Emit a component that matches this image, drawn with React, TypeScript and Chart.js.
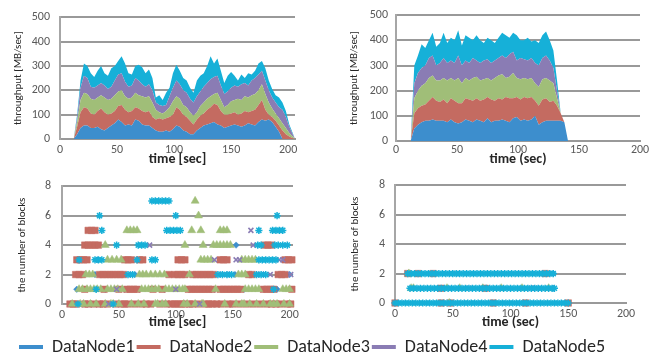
import React, { useEffect, useRef } from "react";
import { Chart, registerables } from "chart.js";
Chart.register(...registerables);

const FONT = "Carlito, Calibri, Lato, sans-serif";

const seriesNames = ["DataNode1", "DataNode2", "DataNode3", "DataNode4", "DataNode5"];
const seriesColors = ["#3d8ecd", "#c46b61", "#a0be78", "#8a7cb4", "#16b0d8"];

// ---------- top-left: throughput (stacked) ----------
const tlTime = [12, 15, 18, 21, 24, 27, 30, 33, 36, 39, 42, 45, 48, 51, 54, 57, 60, 63, 66, 69, 72, 75, 78, 81, 84, 87, 90, 93, 96, 99, 102, 105, 108, 111, 114, 117, 120, 123, 126, 129, 132, 135, 138, 141, 144, 147, 150, 153, 156, 159, 162, 165, 168, 171, 174, 177, 180, 183, 186, 189, 192, 195, 198, 201, 204, 206];
const tlDN1 = [0, 20, 45, 55, 55, 45, 45, 50, 40, 35, 45, 55, 65, 80, 70, 55, 60, 55, 80, 75, 60, 55, 55, 45, 35, 30, 30, 35, 30, 40, 55, 50, 35, 30, 20, 20, 35, 45, 55, 60, 65, 70, 60, 55, 45, 50, 55, 60, 55, 50, 55, 65, 60, 55, 70, 80, 75, 80, 70, 50, 30, 0, 0, 0, 0, 0];
const tlDN2 = [0, 30, 65, 75, 70, 60, 55, 65, 85, 75, 55, 50, 50, 55, 70, 65, 50, 60, 50, 50, 55, 55, 60, 45, 45, 55, 50, 50, 60, 60, 75, 70, 65, 60, 55, 40, 45, 50, 50, 60, 65, 75, 80, 60, 55, 50, 50, 50, 45, 55, 60, 45, 55, 65, 70, 80, 45, 20, 20, 25, 25, 35, 20, 10, 3, 0];
const tlDN3 = [0, 20, 50, 60, 60, 60, 60, 55, 55, 60, 60, 60, 65, 60, 60, 55, 55, 55, 60, 55, 60, 60, 60, 60, 40, 25, 25, 30, 40, 55, 45, 45, 40, 40, 35, 35, 30, 40, 45, 45, 45, 40, 50, 45, 30, 40, 50, 50, 65, 55, 60, 60, 65, 65, 60, 65, 65, 50, 35, 30, 30, 30, 25, 15, 7, 0];
const tlDN4 = [0, 15, 50, 70, 65, 50, 50, 50, 50, 50, 45, 50, 60, 70, 70, 60, 50, 50, 60, 60, 50, 45, 50, 50, 30, 30, 30, 25, 45, 55, 65, 60, 60, 60, 55, 55, 65, 60, 65, 65, 70, 70, 70, 60, 55, 55, 55, 60, 50, 65, 55, 50, 60, 65, 65, 55, 55, 50, 45, 45, 45, 55, 45, 25, 10, 0];
const tlDN5 = [0, 15, 30, 50, 50, 55, 45, 60, 70, 50, 55, 75, 60, 55, 70, 75, 55, 45, 50, 65, 70, 55, 60, 50, 20, 40, 25, 50, 35, 60, 65, 55, 50, 50, 45, 40, 65, 65, 55, 70, 95, 55, 70, 60, 45, 65, 65, 40, 25, 40, 20, 50, 25, 30, 45, 40, 50, 40, 35, 30, 40, 30, 25, 10, 5, 0];

// ---------- top-right: throughput (stacked) ----------
const trTime = [12, 15, 18, 21, 24, 27, 30, 33, 36, 39, 42, 45, 48, 51, 54, 57, 60, 63, 66, 69, 72, 75, 78, 81, 84, 87, 90, 93, 96, 99, 102, 105, 108, 111, 114, 117, 120, 123, 126, 129, 132, 135, 138, 141];
const trDN1 = [0, 50, 65, 75, 80, 80, 85, 80, 80, 80, 75, 85, 75, 70, 75, 85, 80, 75, 85, 80, 75, 90, 75, 80, 80, 85, 80, 75, 90, 95, 80, 85, 80, 85, 100, 65, 75, 80, 80, 80, 80, 80, 75, 0];
const trDN2 = [0, 60, 65, 65, 65, 80, 90, 80, 75, 85, 75, 85, 85, 80, 75, 85, 85, 85, 85, 80, 90, 85, 90, 80, 90, 80, 95, 95, 80, 80, 85, 90, 90, 90, 60, 75, 90, 90, 75, 80, 60, 30, 0, 0];
const trDN3 = [0, 60, 70, 80, 85, 90, 85, 80, 85, 85, 90, 80, 80, 100, 80, 80, 75, 90, 85, 80, 80, 75, 75, 90, 90, 100, 75, 85, 100, 75, 80, 75, 75, 75, 70, 75, 80, 80, 85, 70, 30, 0, 0, 0];
const trDN4 = [0, 60, 70, 70, 70, 80, 80, 60, 70, 80, 70, 70, 70, 90, 70, 70, 70, 80, 65, 70, 75, 75, 70, 70, 70, 75, 80, 90, 85, 70, 85, 75, 75, 80, 80, 85, 85, 90, 80, 60, 30, 0, 0, 0];
const trDN5 = [0, 70, 70, 95, 70, 70, 90, 75, 80, 100, 80, 90, 90, 100, 80, 100, 100, 70, 100, 90, 70, 85, 90, 70, 80, 90, 90, 65, 75, 100, 70, 75, 90, 65, 90, 90, 90, 95, 80, 70, 40, 0, 0, 0];

// ---------- bottom-left: number of blocks (times listed per block count 0..7) ----------
const blDN1Rows = [
  [18, 22, 26, 30, 34, 112, 150],
  [13, 38, 55, 68, 90, 134, 160, 189],
  [29, 60, 64, 139, 147, 152, 173, 177, 200],
  [31],
  [153],
];
const blDN2Rows = [
  [7, 10, 13, 20, 23, 28, 33, 36, 40, 47, 52, 55, 58, 64, 70, 74, 78, 86, 92, 96, 99, 102, 105, 108, 112, 115, 120, 126, 129, 132, 136, 140, 146, 150, 156, 162, 168, 174, 180, 184, 188, 192, 198, 201],
  [20, 37, 50, 57, 60, 63, 66, 80, 88, 111, 114, 117, 120, 123, 126, 129, 132, 139, 142, 145, 148, 151, 154, 157, 177, 180, 183, 186, 202],
  [12, 15, 18, 33, 36, 39, 42, 45, 48, 51, 54, 94, 99, 102, 105, 108, 115, 118, 121, 124, 127, 130, 133, 164, 167, 190, 193, 196],
  [13, 16, 19, 22, 55, 58, 61, 68, 71, 102, 105, 108, 139, 142, 145, 196, 199, 202],
  [20, 23, 26, 29, 32, 178, 181, 184],
  [23, 26, 29],
];
const blDN3Rows = [
  [9, 16, 19, 25, 30, 38, 43, 45, 50, 61, 67, 72, 82, 84, 88, 91, 107, 110, 117, 123, 124, 143, 153, 158, 160, 165, 171, 177, 183, 186, 189, 195, 200],
  [15, 18, 22, 25, 28, 31, 34, 40, 43, 46, 49, 53, 70, 73, 76, 79, 82, 85, 91, 94, 97, 100, 103, 106, 108, 135, 161, 164, 167, 170, 173, 194, 197, 200],
  [21, 24, 27, 68, 71, 74, 78, 82, 86, 90, 112, 155, 158, 161],
  [40, 44, 48, 52, 122, 125, 128, 131, 158, 161, 164, 167, 170],
  [38, 108, 124, 133, 136, 139, 142, 145, 148],
  [57, 60, 63, 66, 114, 122, 139, 142, 145],
  [120],
  [117],
];
const blDN4Rows = [
  [41, 121],
  [48, 100],
  [143, 183, 201],
  [134, 153, 156, 191, 194],
  [77, 168],
  [166],
];
const blDN5Rows = [
  [14, 45],
  [30, 186],
  [58, 62, 137, 141, 145, 149, 171, 175, 179],
  [15, 29, 32, 35, 66, 79, 82, 173, 176, 179, 182, 185, 188],
  [48, 67, 70, 73, 172, 175, 187, 190, 194, 198],
  [35, 92, 95, 98, 101, 104, 173, 185, 188, 191, 194],
  [33, 100, 189],
  [79, 82, 85, 88, 91, 94],
];

// ---------- bottom-right: number of blocks ----------
const brDN1Rows = [[0, 150], [137], [137]];
const brDN2Rows = [[0, 40, 48, 85, 113, 150], [40, 78], [11, 20, 33, 130]];
const brDN3Rows = [[47], [14, 16, 45, 56, 76, 92, 110, 133], [12]];
const brDN4Rows = [[85], [64, 75, 118, 121], [53, 133]];
const brDN5Rows = [
  [0, 3, 6, 9, 12, 15, 18, 21, 24, 27, 30, 33, 36, 39, 42, 45, 48, 51, 54, 57, 60, 63, 66, 69, 72, 75, 78, 81, 84, 87, 90, 93, 96, 99, 102, 105, 108, 111, 114, 117, 120, 123, 126, 129, 132, 135, 138, 141, 144, 147, 150],
  [13, 16, 19, 22, 25, 28, 31, 34, 37, 40, 43, 46, 49, 52, 55, 58, 61, 64, 67, 70, 73, 76, 79, 82, 85, 88, 91, 94, 97, 100, 103, 106, 109, 112, 115, 118, 121, 124, 127, 130, 133, 136, 138],
  [11, 14, 17, 20, 23, 26, 29, 32, 35, 38, 41, 44, 47, 50, 53, 56, 59, 62, 65, 68, 71, 74, 77, 80, 83, 86, 89, 92, 95, 98, 101, 104, 107, 110, 113, 116, 119, 122, 125, 128, 131, 134, 137],
];

const xTicks = [0, 50, 100, 150, 200];

// ---------- styling helpers ----------
const GRID = "#999999";
const TICK = "#595959";
const TITLE = "#262626";

const markerStyles = [
  { pointStyle: "rectRot", radius: 3.2, borderWidth: 0.5, filled: true },
  { pointStyle: "rect", radius: 4.6, borderWidth: 0.5, filled: true },
  { pointStyle: "triangle", radius: 4.6, borderWidth: 0.5, filled: true },
  { pointStyle: "crossRot", radius: 3.5, borderWidth: 1.6, filled: false },
  { pointStyle: "star", radius: 3.6, borderWidth: 1.5, filled: false },
];

type AxisOpts = {
  xMax: number;
  yMax: number;
  yStep: number;
  xTitle: string;
  yTitle: string;
  yWidth: number;
  xHeight: number;
  yTickPad: number;
  xTickPad: number;
  yTitlePad: number;
  xTitlePad: number;
  stacked: boolean;
};

function buildScales(o: AxisOpts) {
  return {
    x: {
      type: "linear",
      min: 0,
      max: o.xMax,
      afterBuildTicks: (s: any) => {
        s.ticks = xTicks.map((v) => ({ value: v }));
      },
      ticks: {
        padding: o.xTickPad,
        color: TICK,
        font: { size: 12, family: FONT },
        maxRotation: 0,
        autoSkip: false,
      },
      grid: { display: false, drawTicks: false },
      border: { display: true, color: GRID, width: 2 },
      title: {
        display: true,
        text: o.xTitle,
        color: TITLE,
        font: { size: 14, weight: "bold", family: FONT },
        padding: { top: 0, bottom: o.xTitlePad },
      },
      afterFit: (s: any) => {
        s.height = o.xHeight;
      },
    },
    y: {
      type: "linear",
      stacked: o.stacked,
      min: 0,
      max: o.yMax,
      ticks: {
        stepSize: o.yStep,
        padding: o.yTickPad,
        color: TICK,
        font: { size: 12, family: FONT },
      },
      grid: { color: GRID, lineWidth: 2, drawTicks: false },
      border: { display: true, color: "#a6a6a6", width: 2 },
      title: {
        display: true,
        text: o.yTitle,
        color: TITLE,
        font: { size: 11, family: FONT },
        padding: { top: o.yTitlePad, bottom: 0 },
      },
      afterFit: (s: any) => {
        s.width = o.yWidth;
      },
    },
  };
}

function areaConfig(time: number[], series: number[][], pad: any, axis: AxisOpts) {
  return {
    type: "line",
    data: {
      datasets: series.map((vals, i) => ({
        label: seriesNames[i],
        data: vals.map((v, k) => ({ x: time[k], y: v })),
        backgroundColor: seriesColors[i],
        borderColor: seriesColors[i],
        borderWidth: 0,
        pointRadius: 0,
        tension: 0,
        fill: i === 0 ? "origin" : "-1",
      })),
    },
    options: {
      animation: false,
      responsive: false,
      layout: { padding: pad },
      plugins: { legend: { display: false }, tooltip: { enabled: false } },
      scales: buildScales(axis),
    },
  };
}

const rowsToPoints = (rows: number[][]) =>
  rows.flatMap((xs, y) => xs.map((x) => ({ x, y })));

function scatterConfig(rowsList: number[][][], pad: any, axis: AxisOpts) {
  return {
    type: "scatter",
    data: {
      datasets: rowsList.map((rows, i) => {
        const m = markerStyles[i];
        return {
          label: seriesNames[i],
          data: rowsToPoints(rows),
          pointStyle: m.pointStyle,
          pointRadius: m.radius,
          pointBorderWidth: m.borderWidth,
          backgroundColor: m.filled ? seriesColors[i] : "rgba(0,0,0,0)",
          borderColor: seriesColors[i],
          order: 4 - i,
          clip: false,
        };
      }),
    },
    options: {
      animation: false,
      responsive: false,
      layout: { padding: pad },
      plugins: { legend: { display: false }, tooltip: { enabled: false } },
      scales: buildScales(axis),
    },
  };
}

function legendConfig() {
  return {
    type: "bar",
    data: {
      labels: [],
      datasets: seriesNames.map((n, i) => ({
        label: n,
        data: [],
        backgroundColor: seriesColors[i],
        borderColor: seriesColors[i],
        borderWidth: 0,
      })),
    },
    options: {
      animation: false,
      responsive: false,
      layout: { padding: { left: 17, top: 0 } },
      plugins: {
        legend: {
          display: true,
          position: "top",
          align: "start",
          labels: {
            boxWidth: 24,
            boxHeight: 4,
            padding: 2,
            color: TITLE,
            font: { size: 18, family: FONT },
          },
        },
        tooltip: { enabled: false },
      },
      scales: { x: { display: false }, y: { display: false } },
    },
  };
}

type Frame = { left: number; top: number; width: number; height: number };

function ChartCanvas({ frame, build }: { frame: Frame; build: () => any }) {
  const ref = useRef<HTMLCanvasElement>(null);
  useEffect(() => {
    const chart = new Chart(ref.current as HTMLCanvasElement, build());
    return () => chart.destroy();
  }, []);
  return (
    <canvas
      ref={ref}
      width={frame.width}
      height={frame.height}
      style={{ position: "absolute", left: frame.left, top: frame.top, width: frame.width, height: frame.height }}
    />
  );
}

export default function App() {
  return (
    <div style={{ position: "absolute", left: 0, top: 0, width: 666, height: 358, background: "#ffffff", overflow: "hidden" }}>
      <ChartCanvas
        frame={{ left: 0, top: 0, width: 333, height: 168 }}
        build={() =>
          areaConfig(tlTime, [tlDN1, tlDN2, tlDN3, tlDN4, tlDN5], { top: 10, right: 38, left: 0, bottom: 0 }, {
            xMax: 206, yMax: 500, yStep: 100, xTitle: "time [sec]", yTitle: "throughput [MB/sec]",
            yWidth: 60, xHeight: 29, yTickPad: 10, xTickPad: 4, yTitlePad: 12, xTitlePad: 0, stacked: true,
          })
        }
      />
      <ChartCanvas
        frame={{ left: 333, top: 0, width: 333, height: 168 }}
        build={() =>
          areaConfig(trTime, [trDN1, trDN2, trDN3, trDN4, trDN5], { top: 9, right: 26, left: 0, bottom: 0 }, {
            xMax: 200, yMax: 500, yStep: 100, xTitle: "time (sec)", yTitle: "throughput [MB/sec]",
            yWidth: 63, xHeight: 27, yTickPad: 8, xTickPad: 2, yTitlePad: 15, xTitlePad: 0, stacked: true,
          })
        }
      />
      <ChartCanvas
        frame={{ left: 0, top: 168, width: 333, height: 163 }}
        build={() =>
          scatterConfig([blDN1Rows, blDN2Rows, blDN3Rows, blDN4Rows, blDN5Rows], { top: 9, right: 40, left: 0, bottom: 0 }, {
            xMax: 203, yMax: 8, yStep: 2, xTitle: "time [sec]", yTitle: "the number of blocks",
            yWidth: 62, xHeight: 27, yTickPad: 11, xTickPad: 4, yTitlePad: 16, xTitlePad: 0, stacked: false,
          })
        }
      />
      <ChartCanvas
        frame={{ left: 333, top: 168, width: 333, height: 163 }}
        build={() =>
          scatterConfig([brDN1Rows, brDN2Rows, brDN3Rows, brDN4Rows, brDN5Rows], { top: 11, right: 40, left: 0, bottom: 0 }, {
            xMax: 200, yMax: 8, yStep: 2, xTitle: "time (sec)", yTitle: "the number of blocks",
            yWidth: 62, xHeight: 28, yTickPad: 10, xTickPad: 4, yTitlePad: 16, xTitlePad: 0, stacked: false,
          })
        }
      />
      <ChartCanvas frame={{ left: 0, top: 336, width: 666, height: 60 }} build={legendConfig} />
    </div>
  );
}
